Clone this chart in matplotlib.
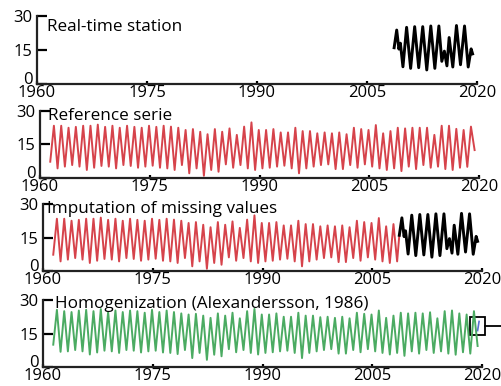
import numpy as np
import matplotlib
matplotlib.use('Agg')
import matplotlib.pyplot as plt
from matplotlib.patches import Rectangle
from matplotlib.transforms import ScaledTranslation

plt.rcParams['font.family'] = ['Open Sans', 'DejaVu Sans']

# reference serie: yearly maxima (mid-year) and minima
ref_peaks = [23.4, 23.4, 22.5, 22.9, 23.4, 23.4, 23.9, 22.9, 23.4, 22.5, 23.4, 22.9, 22.5, 23.4, 22.9, 23.4, 23.0, 22.5, 21.5,
             21.9, 20.7, 19.6, 21.9, 20.7, 22.2, 19.3, 23.0, 24.9, 21.5, 21.5, 21.9, 20.4, 20.4, 22.5, 21.0, 21.0, 20.0, 20.4, 20.0,
             20.4, 19.6, 22.5, 21.9, 21.5, 23.7, 20.0, 21.0, 22.5, 22.2, 22.5, 22.5, 22.5, 19.3, 23.4, 23.4, 22.0, 21.5, 23.0]
ref_troughs = [4.3, 5.1, 5.8, 5.1, 3.6, 4.6, 5.4, 5.1, 4.3, 5.8, 5.4, 4.6, 5.1, 5.5, 4.6, 4.3, 3.6, 5.8,
               2.1, 4.3, 1.0, 3.6, 2.8, 6.1, 4.6, 5.8, 4.3, 3.6, 4.3, 4.6, 5.1, 5.5, 4.3, 2.1, 4.3, 5.1,
               5.8, 6.1, 4.0, 4.0, 5.8, 4.6, 6.1, 5.1, 4.3, 3.6, 4.3, 3.1, 5.1, 4.0, 5.8, 4.6, 5.1, 4.0, 3.6, 4.6, 5.0]
ref_start, ref_end = 7.3, 12.5

# homogenized serie
hom_peaks = [25.6, 25.0, 24.6, 25.3, 25.6, 25.0, 25.9, 24.6, 25.3, 24.6, 25.3, 25.0, 24.3, 25.6, 24.6, 25.3, 24.6, 24.0, 23.5,
             23.8, 23.0, 22.0, 24.0, 23.0, 24.3, 21.8, 25.0, 26.0, 23.5, 23.5, 24.0, 22.5, 22.5, 24.3, 23.0, 23.0, 22.3, 22.5, 22.0,
             22.5, 21.8, 24.3, 23.8, 23.5, 25.3, 22.0, 23.0, 24.3, 24.0, 24.3, 24.0, 24.5, 21.8, 25.0, 25.3, 24.0, 23.5, 25.0]
hom_troughs = [6.8, 7.0, 7.6, 7.0, 5.6, 6.5, 7.3, 7.0, 6.3, 7.6, 7.3, 6.5, 7.0, 7.3, 6.5, 6.3, 5.8, 7.6,
               4.0, 6.3, 3.2, 5.5, 4.8, 8.0, 6.6, 7.6, 6.3, 5.6, 6.3, 6.6, 7.0, 7.3, 6.3, 4.0, 6.3, 7.0,
               7.6, 8.0, 6.0, 6.0, 7.6, 6.6, 8.0, 7.0, 6.3, 5.6, 6.3, 5.0, 7.0, 6.0, 7.6, 6.3, 7.0, 6.0, 5.5, 6.6, 6.0]
hom_start, hom_end = 10.0, 9.4

# real-time station (black)
station_t = [2008.7, 2009.05, 2009.35, 2009.55, 2009.9, 2010.4, 2010.95, 2011.5, 2012.05, 2012.6, 2013.15, 2013.7,
             2014.25, 2014.8, 2015.2, 2015.55, 2015.9, 2016.2, 2016.7, 2017.2, 2017.75, 2018.3, 2018.8, 2019.2, 2019.4]
station_v = [16.0, 23.8, 15.4, 18.0, 7.6, 25.0, 6.9, 25.3, 7.2, 25.3, 6.2, 25.6, 6.9, 25.6, 10.0, 14.5, 8.0,
             20.5, 7.5, 25.8, 8.5, 25.6, 7.5, 15.5, 13.3]

# box at the end of the homogenized serie
new_t = [2019.4, 2019.6]
new_v = [16.3, 20.4]

years = [1960, 1975, 1990, 2005, 2020]
yticks = [0, 15, 30]

RED = '#d6434b'
GREEN = '#4bab62'


def zigzag(start, peaks, troughs, end):
    t = [1961.4]
    v = [start]
    for i, p in enumerate(peaks):
        t.append(1961.9 + i)
        v.append(p)
        if i < len(troughs):
            t.append(1962.4 + i)
            v.append(troughs[i])
    t.append(t[-1] + 0.5)
    v.append(end)
    return t, v


def style(ax, title, dx, dy=2):
    ax.set_xlim(1960, 2020)
    ax.set_ylim(0, 30)
    ax.set_xticks(years)
    ax.set_yticks(yticks)
    for s in ['top', 'right']:
        ax.spines[s].set_visible(False)
    for s in ['left', 'bottom']:
        ax.spines[s].set_linewidth(1.6)
        ax.spines[s].set_color('#222222')
    ax.tick_params(axis='y', direction='in', length=7, width=1.6, labelsize=12, pad=3)
    ax.tick_params(axis='x', direction='in', length=2, width=1.6, labelsize=12, pad=0.5)
    ax.patch.set_alpha(0)
    # lift the "0" a bit so it sits above the year labels
    lab0 = ax.get_yticklabels()[0]
    lab0.set_transform(lab0.get_transform() + ScaledTranslation(0, 4 / 72, ax.figure.dpi_scale_trans))
    ax.annotate(title, xy=(0, 1), xycoords='axes fraction', xytext=(dx, dy),
                textcoords='offset points', ha='left', va='top', fontsize=12.3)


ref_t, ref_v = zigzag(ref_start, ref_peaks, ref_troughs, ref_end)
hom_t, hom_v = zigzag(hom_start, hom_peaks, hom_troughs, hom_end)

# red part that is kept before the station takes over
n_keep = sum(1 for t in ref_t if t <= station_t[0])
imp_t = ref_t[:n_keep] + [station_t[0]]
imp_v = ref_v[:n_keep] + [station_v[0]]

fig = plt.figure(figsize=(5.02, 3.86), dpi=100)
W, H = 502, 386
boxes = [(37, 16, 440, 68), (40, 111, 439, 67), (43, 204, 439, 67), (43, 300, 439, 67)]
axes = [fig.add_axes([l / W, 1 - (t + h) / H, w / W, h / H]) for l, t, w, h in boxes]

ax1, ax2, ax3, ax4 = axes
ax1.plot(station_t, station_v, color='black', lw=2.1)
style(ax1, 'Real-time station', 7, -2)

ax2.plot(ref_t, ref_v, color=RED, lw=1.4)
style(ax2, 'Reference serie', 6)

ax3.plot(imp_t, imp_v, color=RED, lw=1.4)
ax3.plot(station_t, station_v, color='black', lw=2.1)
style(ax3, 'Imputation of missing values', 3)

ax4.plot(hom_t, hom_v, color=GREEN, lw=1.4)
ax4.plot(new_t, new_v, color='#5a6fd0', lw=1.2)
style(ax4, 'Homogenization (Alexandersson, 1986)', 9, 3)
ax4.add_patch(Rectangle((2018.4, 14.2), 2.0, 8.3, fill=False, ec='black', lw=1.3, clip_on=False))
ax4.plot([2020.4, 2023.5], [18.3, 18.3], color='black', lw=1.3, clip_on=False)

fig.savefig('out.png', dpi=100)
